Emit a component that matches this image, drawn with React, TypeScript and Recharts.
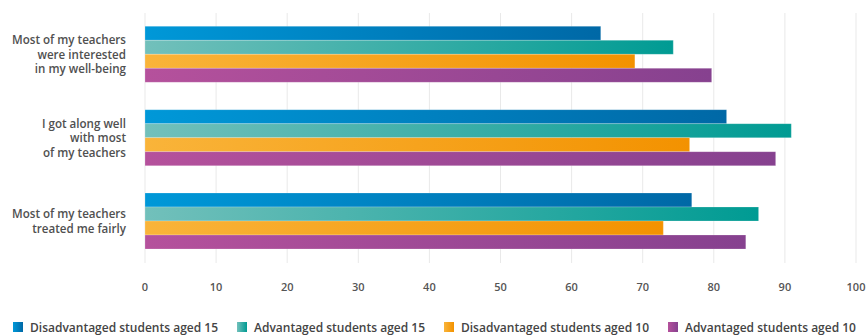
import { BarChart, Bar, XAxis, YAxis, CartesianGrid, Legend } from "recharts";

const categories = [
  "Most of my teachers\nwere interested\nin my well-being",
  "I got along well\nwith most\nof my teachers",
  "Most of my teachers\ntreated me fairly",
];

const disadvantaged15 = [64.1, 81.8, 76.9];
const advantaged15 = [74.3, 90.9, 86.3];
const disadvantaged10 = [68.9, 76.6, 72.9];
const advantaged10 = [79.7, 88.7, 84.5];

const xTicks = [0, 10, 20, 30, 40, 50, 60, 70, 80, 90, 100];

const series = [
  { key: "dis15", name: "Disadvantaged students aged 15", from: "#0098d8", to: "#0068a6" },
  { key: "adv15", name: "Advantaged students aged 15", from: "#72c0bb", to: "#009b93" },
  { key: "dis10", name: "Disadvantaged students aged 10", from: "#f9b43a", to: "#f39200" },
  { key: "adv10", name: "Advantaged students aged 10", from: "#b5519c", to: "#86418f" },
];

const data = categories.map((label, i) => ({
  label,
  dis15: disadvantaged15[i],
  adv15: advantaged15[i],
  dis10: disadvantaged10[i],
  adv10: advantaged10[i],
}));

const font = "'Open Sans', sans-serif";

function CategoryTick(props: any) {
  const { x, y, payload } = props;
  const lines = String(payload.value).split("\n");
  const lh = 14.5;
  const start = y - ((lines.length - 1) * lh) / 2 + 1;
  return (
    <text
      x={x - 11}
      y={start}
      textAnchor="end"
      dominantBaseline="middle"
      fill="#505050"
      fontFamily={font}
      fontWeight={600}
      fontSize={11.6}
    >
      {lines.map((l: string, i: number) => (
        <tspan key={i} x={x - 11} y={start + i * lh}>
          {l}
        </tspan>
      ))}
    </text>
  );
}

function LegendContent() {
  return (
    <div
      style={{
        display: "flex",
        justifyContent: "space-between",
        height: 16,
        alignItems: "center",
        padding: "0 0 0 13px",
        fontFamily: font,
        fontWeight: 600,
        fontSize: 12,
        color: "#444",
      }}
    >
      {series.map((s) => (
        <div key={s.key} style={{ display: "flex", alignItems: "center" }}>
          <span
            style={{
              display: "inline-block",
              width: 10,
              height: 10,
              marginRight: 7,
              background: `linear-gradient(to right, ${s.from}, ${s.to})`,
            }}
          />
          {s.name}
        </div>
      ))}
    </div>
  );
}

export default function App() {
  return (
    <div style={{ position: "absolute", left: 0, top: 0, background: "#fff" }}>
      <BarChart
        width={868}
        height={335}
        data={data}
        layout="vertical"
        barCategoryGap="16%"
        barGap={0}
        margin={{ top: 13, right: 12, bottom: 0, left: 0 }}
      >
        <defs>
          {series.map((s) => (
            <linearGradient key={s.key} id={"g-" + s.key} x1="0" y1="0" x2="1" y2="0">
              <stop offset="0%" stopColor={s.from} />
              <stop offset="100%" stopColor={s.to} />
            </linearGradient>
          ))}
        </defs>
        <CartesianGrid horizontal={false} stroke="#e9e9e9" />
        <XAxis
          type="number"
          domain={[0, 100]}
          ticks={xTicks}
          axisLine={false}
          tickLine={false}
          tickSize={18}
          tickMargin={2}
          height={56}
          tick={{ fill: "#555", fontSize: 11, fontFamily: font, fontWeight: 600 }}
        />
        <YAxis
          type="category"
          dataKey="label"
          width={145}
          axisLine={false}
          tickLine={false}
          tick={<CategoryTick />}
        />
        {series.map((s) => (
          <Bar
            key={s.key}
            dataKey={s.key}
            name={s.name}
            fill={`url(#g-${s.key})`}
            stroke="#ffffff"
            strokeOpacity={0.35}
            strokeWidth={0.6}
            isAnimationActive={false}
          />
        ))}
        <Legend verticalAlign="bottom" content={<LegendContent />} />
      </BarChart>
    </div>
  );
}
